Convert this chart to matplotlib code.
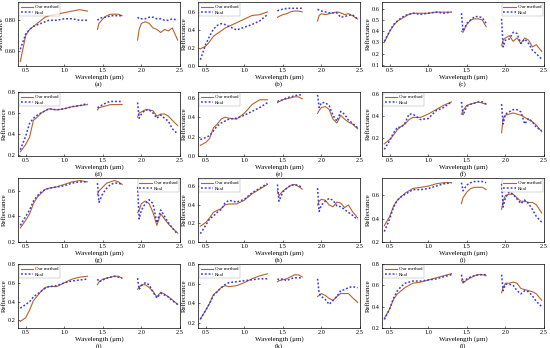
import numpy as np
import matplotlib
matplotlib.use("Agg")
import matplotlib.pyplot as plt

plt.rcParams['font.family'] = ['Liberation Serif', 'DejaVu Serif']

nan = np.nan
# wavelength (um), bands split by water absorption gaps (nan)
wl = [0.43, 0.5, 0.55, 0.6, 0.65, 0.7, 0.75, 0.8, 0.9, 1.0, 1.1, 1.2, 1.3, nan,
      1.43, 1.45, 1.5, 1.55, 1.6, 1.65, 1.7, 1.75, nan,
      1.95, 1.97, 2.0, 2.05, 2.1, 2.15, 2.2, 2.25, 2.3, 2.35, 2.4, 2.47]

our_a = [0.53, 0.70, 0.74, 0.76, 0.78, 0.80, 0.82, 0.83, 0.84, 0.85, 0.86, 0.87, 0.86, nan,
         0.74, 0.78, 0.81, 0.83, 0.84, 0.84, 0.84, 0.83, nan,
         0.67, 0.74, 0.78, 0.79, 0.78, 0.75, 0.74, 0.72, 0.74, 0.73, 0.75, 0.67]
real_a = [0.61, 0.71, 0.74, 0.76, 0.77, 0.78, 0.79, 0.80, 0.80, 0.81, 0.81, 0.80, 0.80, nan,
          0.80, 0.81, 0.82, 0.82, 0.83, 0.83, 0.83, 0.83, nan,
          0.82, 0.81, 0.81, 0.81, 0.82, 0.82, 0.81, 0.81, 0.80, 0.80, 0.81, 0.80]

our_b = [0.19, 0.22, 0.27, 0.33, 0.36, 0.39, 0.42, 0.44, 0.48, 0.52, 0.56, 0.57, 0.60, nan,
         0.54, 0.55, 0.57, 0.58, 0.60, 0.61, 0.61, 0.60, nan,
         0.50, 0.56, 0.58, 0.57, 0.58, 0.59, 0.60, 0.59, 0.57, 0.58, 0.56, 0.52]
real_b = [0.07, 0.24, 0.33, 0.41, 0.45, 0.47, 0.46, 0.44, 0.40, 0.43, 0.46, 0.50, 0.57, nan,
          0.61, 0.62, 0.63, 0.64, 0.64, 0.64, 0.64, 0.64, nan,
          0.63, 0.62, 0.61, 0.60, 0.59, 0.59, 0.59, 0.54, 0.55, 0.56, 0.57, 0.52]

our_c = [0.30, 0.40, 0.45, 0.49, 0.51, 0.53, 0.55, 0.56, 0.56, 0.56, 0.57, 0.57, 0.57, nan,
         0.40, 0.39, 0.46, 0.50, 0.51, 0.51, 0.50, 0.44, nan,
         0.27, 0.32, 0.34, 0.36, 0.31, 0.34, 0.29, 0.34, 0.32, 0.26, 0.28, 0.22]
real_c = [0.31, 0.40, 0.46, 0.49, 0.52, 0.54, 0.55, 0.56, 0.55, 0.56, 0.57, 0.56, 0.57, nan,
          0.56, 0.40, 0.47, 0.50, 0.53, 0.53, 0.52, 0.47, nan,
          0.51, 0.26, 0.32, 0.33, 0.39, 0.38, 0.29, 0.33, 0.29, 0.23, 0.20, 0.15]

our_d = [0.23, 0.30, 0.37, 0.53, 0.56, 0.60, 0.62, 0.64, 0.63, 0.64, 0.66, 0.67, 0.68, nan,
         0.63, 0.65, 0.66, 0.67, 0.68, 0.68, 0.68, 0.68, nan,
         0.56, 0.60, 0.61, 0.63, 0.63, 0.62, 0.57, 0.59, 0.59, 0.57, 0.53, 0.48]
real_d = [0.25, 0.38, 0.50, 0.55, 0.58, 0.60, 0.62, 0.64, 0.63, 0.64, 0.66, 0.67, 0.69, nan,
          0.65, 0.66, 0.68, 0.70, 0.71, 0.71, 0.71, 0.71, nan,
          0.70, 0.55, 0.59, 0.63, 0.63, 0.60, 0.55, 0.58, 0.55, 0.52, 0.45, 0.40]

our_e = [0.11, 0.14, 0.18, 0.29, 0.33, 0.38, 0.40, 0.39, 0.38, 0.44, 0.53, 0.58, 0.58, nan,
         0.55, 0.56, 0.58, 0.59, 0.60, 0.61, 0.61, 0.59, nan,
         0.44, 0.47, 0.50, 0.51, 0.48, 0.38, 0.34, 0.42, 0.38, 0.35, 0.33, 0.28]
real_e = [0.17, 0.19, 0.21, 0.26, 0.31, 0.34, 0.36, 0.38, 0.39, 0.42, 0.46, 0.50, 0.55, nan,
          0.56, 0.57, 0.58, 0.60, 0.61, 0.62, 0.63, 0.63, nan,
          0.63, 0.50, 0.55, 0.55, 0.52, 0.42, 0.36, 0.46, 0.43, 0.37, 0.34, 0.29]

our_f = [0.15, 0.19, 0.23, 0.28, 0.31, 0.33, 0.37, 0.39, 0.39, 0.42, 0.46, 0.50, 0.53, nan,
         0.42, 0.45, 0.50, 0.51, 0.52, 0.53, 0.52, 0.51, nan,
         0.25, 0.38, 0.41, 0.42, 0.43, 0.42, 0.41, 0.39, 0.37, 0.35, 0.32, 0.26]
real_f = [0.10, 0.18, 0.25, 0.30, 0.30, 0.34, 0.42, 0.42, 0.37, 0.38, 0.45, 0.48, 0.53, nan,
          0.53, 0.41, 0.49, 0.51, 0.52, 0.53, 0.53, 0.51, nan,
          0.51, 0.33, 0.42, 0.44, 0.46, 0.46, 0.44, 0.33, 0.38, 0.35, 0.30, 0.27]

our_g = [0.31, 0.37, 0.42, 0.50, 0.55, 0.58, 0.61, 0.62, 0.63, 0.65, 0.67, 0.68, 0.67, nan,
         0.57, 0.60, 0.63, 0.66, 0.67, 0.68, 0.67, 0.65, nan,
         0.43, 0.45, 0.50, 0.52, 0.50, 0.43, 0.33, 0.42, 0.38, 0.34, 0.31, 0.27]
real_g = [0.33, 0.40, 0.45, 0.52, 0.56, 0.59, 0.61, 0.62, 0.63, 0.64, 0.66, 0.67, 0.67, nan,
          0.66, 0.51, 0.58, 0.62, 0.65, 0.66, 0.66, 0.65, nan,
          0.63, 0.38, 0.45, 0.50, 0.53, 0.50, 0.35, 0.45, 0.40, 0.35, 0.31, 0.26]

our_h = [0.17, 0.21, 0.26, 0.32, 0.34, 0.36, 0.40, 0.41, 0.41, 0.45, 0.52, 0.57, 0.62, nan,
         0.55, 0.50, 0.55, 0.58, 0.61, 0.62, 0.60, 0.57, nan,
         0.40, 0.44, 0.46, 0.45, 0.40, 0.38, 0.43, 0.42, 0.37, 0.40, 0.33, 0.26]
real_h = [0.09, 0.18, 0.25, 0.28, 0.32, 0.35, 0.42, 0.45, 0.43, 0.46, 0.53, 0.58, 0.63, nan,
          0.62, 0.44, 0.54, 0.58, 0.61, 0.62, 0.61, 0.59, nan,
          0.58, 0.33, 0.40, 0.44, 0.47, 0.45, 0.39, 0.38, 0.35, 0.32, 0.29, 0.24]

our_i = [0.34, 0.42, 0.51, 0.56, 0.59, 0.62, 0.64, 0.66, 0.67, 0.68, 0.70, 0.71, 0.71, nan,
         0.53, 0.58, 0.63, 0.66, 0.67, 0.67, 0.67, 0.65, nan,
         0.48, 0.55, 0.60, 0.61, 0.61, 0.58, 0.55, 0.55, 0.54, 0.54, 0.52, 0.45]
real_i = [0.29, 0.40, 0.50, 0.56, 0.59, 0.61, 0.63, 0.65, 0.65, 0.66, 0.68, 0.70, 0.71, nan,
          0.71, 0.64, 0.69, 0.71, 0.72, 0.72, 0.72, 0.71, nan,
          0.70, 0.50, 0.58, 0.63, 0.61, 0.57, 0.53, 0.56, 0.53, 0.48, 0.42, 0.37]

our_j = [0.19, 0.23, 0.31, 0.41, 0.46, 0.51, 0.55, 0.56, 0.56, 0.60, 0.64, 0.66, 0.67, nan,
         0.58, 0.61, 0.64, 0.65, 0.66, 0.67, 0.67, 0.65, nan,
         0.53, 0.55, 0.58, 0.58, 0.55, 0.51, 0.45, 0.50, 0.48, 0.45, 0.42, 0.37]
real_j = [0.33, 0.37, 0.40, 0.45, 0.48, 0.51, 0.54, 0.56, 0.57, 0.60, 0.62, 0.63, 0.64, nan,
          0.64, 0.61, 0.63, 0.65, 0.66, 0.67, 0.66, 0.65, nan,
          0.65, 0.53, 0.57, 0.60, 0.58, 0.50, 0.44, 0.49, 0.47, 0.45, 0.41, 0.37]

our_k = [0.24, 0.33, 0.40, 0.49, 0.52, 0.56, 0.58, 0.57, 0.58, 0.61, 0.65, 0.68, 0.70, nan,
         0.62, 0.63, 0.64, 0.65, 0.67, 0.69, 0.69, 0.67, nan,
         0.47, 0.48, 0.50, 0.48, 0.45, 0.43, 0.47, 0.50, 0.50, 0.50, 0.46, 0.41]
real_k = [0.24, 0.33, 0.40, 0.48, 0.52, 0.56, 0.59, 0.61, 0.62, 0.63, 0.64, 0.65, 0.65, nan,
          0.65, 0.64, 0.65, 0.63, 0.65, 0.66, 0.66, 0.66, nan,
          0.65, 0.50, 0.47, 0.44, 0.39, 0.43, 0.47, 0.53, 0.54, 0.56, 0.57, 0.56]

our_l = [0.29, 0.38, 0.47, 0.52, 0.55, 0.58, 0.60, 0.62, 0.63, 0.65, 0.67, 0.69, 0.71, nan,
         0.65, 0.62, 0.65, 0.67, 0.69, 0.70, 0.70, 0.69, nan,
         0.53, 0.58, 0.62, 0.62, 0.63, 0.62, 0.57, 0.56, 0.55, 0.54, 0.52, 0.46]
real_l = [0.28, 0.38, 0.48, 0.55, 0.59, 0.62, 0.63, 0.64, 0.64, 0.65, 0.66, 0.68, 0.70, nan,
          0.70, 0.63, 0.66, 0.68, 0.69, 0.70, 0.70, 0.70, nan,
          0.70, 0.55, 0.61, 0.61, 0.60, 0.55, 0.52, 0.55, 0.54, 0.50, 0.45, 0.40]

panel_labels = ['(a)', '(b)', '(c)', '(d)', '(e)', '(f)',
                '(g)', '(h)', '(i)', '(j)', '(k)', '(l)']
our_all = [our_a, our_b, our_c, our_d, our_e, our_f,
           our_g, our_h, our_i, our_j, our_k, our_l]
real_all = [real_a, real_b, real_c, real_d, real_e, real_f,
            real_g, real_h, real_i, real_j, real_k, real_l]
ylims = [(0.50, 0.92), (0.0, 0.71), (0.09, 0.66), (0.19, 0.80),
         (0.0, 0.66), (0.04, 0.62), (0.2, 0.70), (0.0, 0.69),
         (0.2, 0.75), (0.12, 0.80), (0.15, 0.80), (0.2, 0.80)]
yticks = [[0.6, 0.8], [0.0, 0.2, 0.4, 0.6], [0.1, 0.2, 0.3, 0.4, 0.5, 0.6],
          [0.2, 0.4, 0.6, 0.8], [0.0, 0.2, 0.4, 0.6], [0.2, 0.4, 0.6],
          [0.2, 0.4, 0.6], [0.0, 0.2, 0.4, 0.6], [0.2, 0.4, 0.6],
          [0.2, 0.4, 0.6, 0.8], [0.2, 0.4, 0.6, 0.8], [0.2, 0.4, 0.6, 0.8]]
legend_loc = ['upper left', 'upper left', 'upper right', 'upper left',
              'upper left', 'upper left', 'upper right', 'upper left',
              'upper right', 'upper left', 'upper left', 'upper left']

W, H = 550, 348
fig = plt.figure(figsize=(5.5, 3.48), dpi=100)
col_left = [18, 198, 382]
row_top = [2, 92, 178, 264]
aw, ah = 162, 64

for k in range(12):
    r, c = divmod(k, 3)
    ax = fig.add_axes([col_left[c] / W, 1 - (row_top[r] + ah) / H, aw / W, ah / H])
    ax.plot(wl, our_all[k], color='#b5642c', lw=0.8, label='Our method')
    ax.plot(wl, real_all[k], color='#3a3ad6', lw=1.1, ls=(0, (1.2, 1.3)), label='Real')
    ax.set_xlim(0.4, 2.5)
    ax.set_ylim(*ylims[k])
    ax.set_xticks([0.5, 1.0, 1.5, 2.0, 2.5])
    ax.set_yticks(yticks[k])
    if k == 0:
        ax.set_yticklabels(['%.2f' % v for v in yticks[k]])
    else:
        ax.set_yticklabels(['%.1f' % v for v in yticks[k]])
    ax.tick_params(direction='in', labelsize=4.5, length=1.5, width=0.4, pad=1.5)
    for s in ax.spines.values():
        s.set_linewidth(0.5)
    ax.set_xlabel('Wavelength (\u03bcm)', fontsize=5, labelpad=1)
    ax.set_ylabel('Reflectance', fontsize=5, labelpad=1)
    ax.legend(loc=legend_loc[k], fontsize=3.5, frameon=True, fancybox=False,
              edgecolor='#888888', handlelength=2.5, borderpad=0.3,
              labelspacing=0.2, handletextpad=0.4, borderaxespad=0.3).get_frame().set_linewidth(0.3)
    ax.text(0.5, -0.285, panel_labels[k], transform=ax.transAxes,
            ha='center', va='center', fontsize=5)

fig.savefig('out.png', dpi=100)
